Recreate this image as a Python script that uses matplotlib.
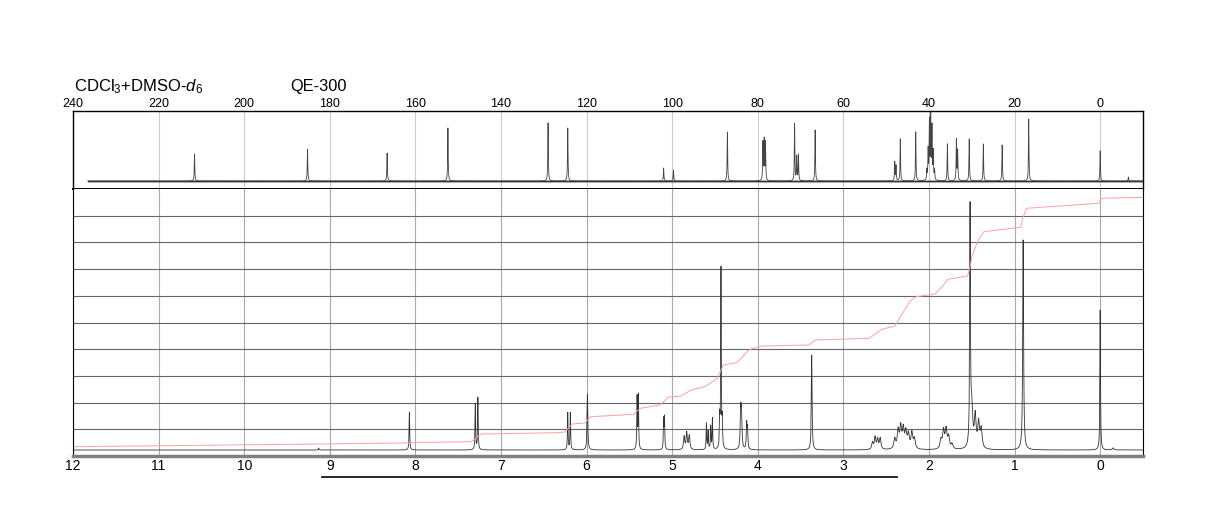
import matplotlib
matplotlib.use("Agg")
import matplotlib.pyplot as plt
import numpy as np

plt.rcParams['font.family'] = ['Liberation Sans', 'DejaVu Sans']
plt.rcParams['mathtext.fontset'] = 'custom'
plt.rcParams['mathtext.rm'] = 'Liberation Sans'
plt.rcParams['mathtext.it'] = 'Liberation Sans:italic'

# 13C peaks: shift (ppm), height (px above baseline)
c13_ppm = [211.6, 185.2, 166.6, 152.4, 129.0, 124.4, 102.0, 99.7, 87.1,
           78.8, 78.5, 78.2, 71.4, 70.9, 70.5, 66.6, 48.0, 47.7, 46.7, 43.1,
           40.5, 40.2, 39.9, 39.6, 39.3, 39.0, 38.7,
           35.7, 33.6, 33.3, 30.6, 27.3, 22.9, 16.7, 0.0, -6.6]
c13_height = [27, 32, 28, 53, 58, 53, 13, 11, 49,
              38, 40, 38, 57, 24, 26, 51, 19, 15, 42, 49,
              10, 30, 58, 66, 52, 28, 10,
              37, 41, 30, 42, 37, 36, 62, 30, 4]

# 1H peaks: shift (ppm), height (px above baseline), half width (ppm)
h1_ppm = [9.13, 8.07, 7.30, 7.27, 6.22, 6.19, 5.99, 5.41, 5.395, 5.10, 5.09,
          4.86, 4.83, 4.80, 4.60, 4.58, 4.55, 4.53, 4.445, 4.43, 4.415,
          4.20, 4.19, 4.13, 4.12, 3.37,
          2.66, 2.63, 2.60, 2.57,
          2.40, 2.36, 2.33, 2.30, 2.27, 2.24, 2.20, 2.17,
          1.86, 1.83, 1.80, 1.77, 1.73,
          1.52, 1.50, 1.46, 1.42, 1.39,
          0.90, 0.0, -0.15]
h1_height = [2, 38, 46, 52, 37, 37, 56, 52, 53, 29, 31,
             13, 17, 14, 26, 18, 23, 31, 28, 180, 26,
             38, 35, 25, 20, 95,
             7, 12, 10, 11,
             10, 18, 21, 19, 16, 14, 16, 10,
             9, 18, 19, 12, 5,
             236, 40, 32, 25, 19,
             210, 140, 2]
h1_width = [0.004, 0.004, 0.004, 0.004, 0.004, 0.004, 0.005, 0.004, 0.004, 0.004, 0.004,
            0.008, 0.008, 0.008, 0.004, 0.004, 0.004, 0.004, 0.004, 0.004, 0.004,
            0.006, 0.006, 0.005, 0.005, 0.005,
            0.01, 0.01, 0.01, 0.01,
            0.012, 0.012, 0.012, 0.012, 0.012, 0.012, 0.012, 0.012,
            0.012, 0.012, 0.012, 0.012, 0.012,
            0.005, 0.012, 0.012, 0.012, 0.012,
            0.006, 0.004, 0.01]

# integral trace (ppm, px above baseline)
int_ppm = [12.0, 8.1, 8.0, 7.35, 7.30, 7.26, 7.22, 6.35, 6.25, 6.21, 6.17,
           6.02, 5.99, 5.95, 5.45, 5.41, 5.37, 5.15, 5.09, 5.05, 4.9, 4.83,
           4.78, 4.62, 4.55, 4.47, 4.43, 4.40, 4.25, 4.20, 4.16, 4.12, 4.08,
           3.95, 3.40, 3.36, 3.32, 2.70, 2.62, 2.55, 2.40, 2.30, 2.22, 2.15,
           1.93, 1.84, 1.78, 1.55, 1.52, 1.50, 1.44, 1.36, 0.93, 0.90, 0.86,
           0.02, 0.0, -0.02, -0.5]
int_height = [3.3, 7, 7.5, 8.3, 11, 14.5, 16, 17.3, 18, 22, 26,
              27, 30, 33.3, 35.7, 39, 41.7, 45, 49, 52.7, 54, 57.5,
              60, 63.3, 67, 72, 80, 85, 87.3, 91, 95, 99, 101,
              104, 105, 108, 110, 111.7, 116.5, 120.7, 124, 138, 149, 153.3,
              156, 164, 170.7, 174, 183, 193.3, 207, 218.3, 222.7, 233, 241.7,
              246.7, 249.5, 251.7, 252.7]


def lorentz_sum(x, centers, heights, widths):
    y = np.zeros_like(x)
    for c, h, w in zip(centers, heights, widths):
        y += h / (1 + ((x - c) / w) ** 2)
    return y


fig = plt.figure(figsize=(12.24, 5.28), dpi=100)
W, H = 1224.0, 528.0
left, right = 73 / W, 1143 / W
ax_c = fig.add_axes([left, 1 - 189 / H, right - left, (189 - 110.7) / H])
ax_h = fig.add_axes([left, 1 - 456 / H, right - left, (456 - 189) / H])

# ---- 13C spectrum ----
xc = np.arange(-10, 236.6, 0.02)
yc = lorentz_sum(xc, c13_ppm, c13_height, [0.07] * len(c13_ppm))
ax_c.fill_between(xc, -0.9, 0.9, color='#333333', lw=0)
ax_c.plot(xc, yc, color='#444444', lw=0.6)
ax_c.set_xlim(240, -10)
ax_c.set_ylim(-8, 70.3)
ax_c.xaxis.tick_top()
ax_c.set_xticks(np.arange(0, 241, 20))
ax_c.set_yticks([])
ax_c.tick_params(axis='x', length=0, pad=0.3, labelsize=9)
ax_c.grid(axis='x', color='#cccccc', lw=0.8)
ax_c.set_axisbelow(True)
for s in ax_c.spines.values():
    s.set_color('black')
    s.set_linewidth(1.0)
ax_c.spines['bottom'].set_linewidth(1.4)

# ---- 1H spectrum ----
xh = np.arange(-0.5, 12.0, 0.0005)
yh = lorentz_sum(xh, h1_ppm, h1_height, h1_width)
ax_h.plot(xh, yh, color='#333333', lw=0.6)
ax_h.plot(int_ppm, int_height, color='#ffa0a0', lw=0.7)
ax_h.set_xlim(12, -0.5)
ylo, yhi = -6, 261
ax_h.set_ylim(ylo, yhi)
ax_h.set_xticks(np.arange(0, 13, 1))
ax_h.set_yticks(np.linspace(ylo, yhi, 11)[1:-1])
ax_h.set_yticklabels([])
ax_h.tick_params(length=0)
ax_h.tick_params(axis='x', pad=2, labelsize=10)
ax_h.grid(axis='x', color='#aaaaaa', lw=0.8)
ax_h.grid(axis='y', color='#666666', lw=0.8)
ax_h.set_axisbelow(True)
ax_h.spines['top'].set_visible(False)
ax_h.spines['left'].set_color('black')
ax_h.spines['right'].set_color('black')
ax_h.spines['bottom'].set_color('#808080')
ax_h.spines['bottom'].set_linewidth(2.5)

# labels
fig.text(74 / W, 1 - 91.5 / H, r'CDCl$_3$+DMSO-$d_6$', fontsize=12, va='baseline')
fig.text(290 / W, 1 - 91.5 / H, 'QE-300', fontsize=11.8, va='baseline')
fig.add_artist(plt.Line2D([322 / W, 897 / W], [1 - 476.5 / H, 1 - 476.5 / H],
                          color='black', lw=1.2))

fig.savefig('out.png', dpi=100)
